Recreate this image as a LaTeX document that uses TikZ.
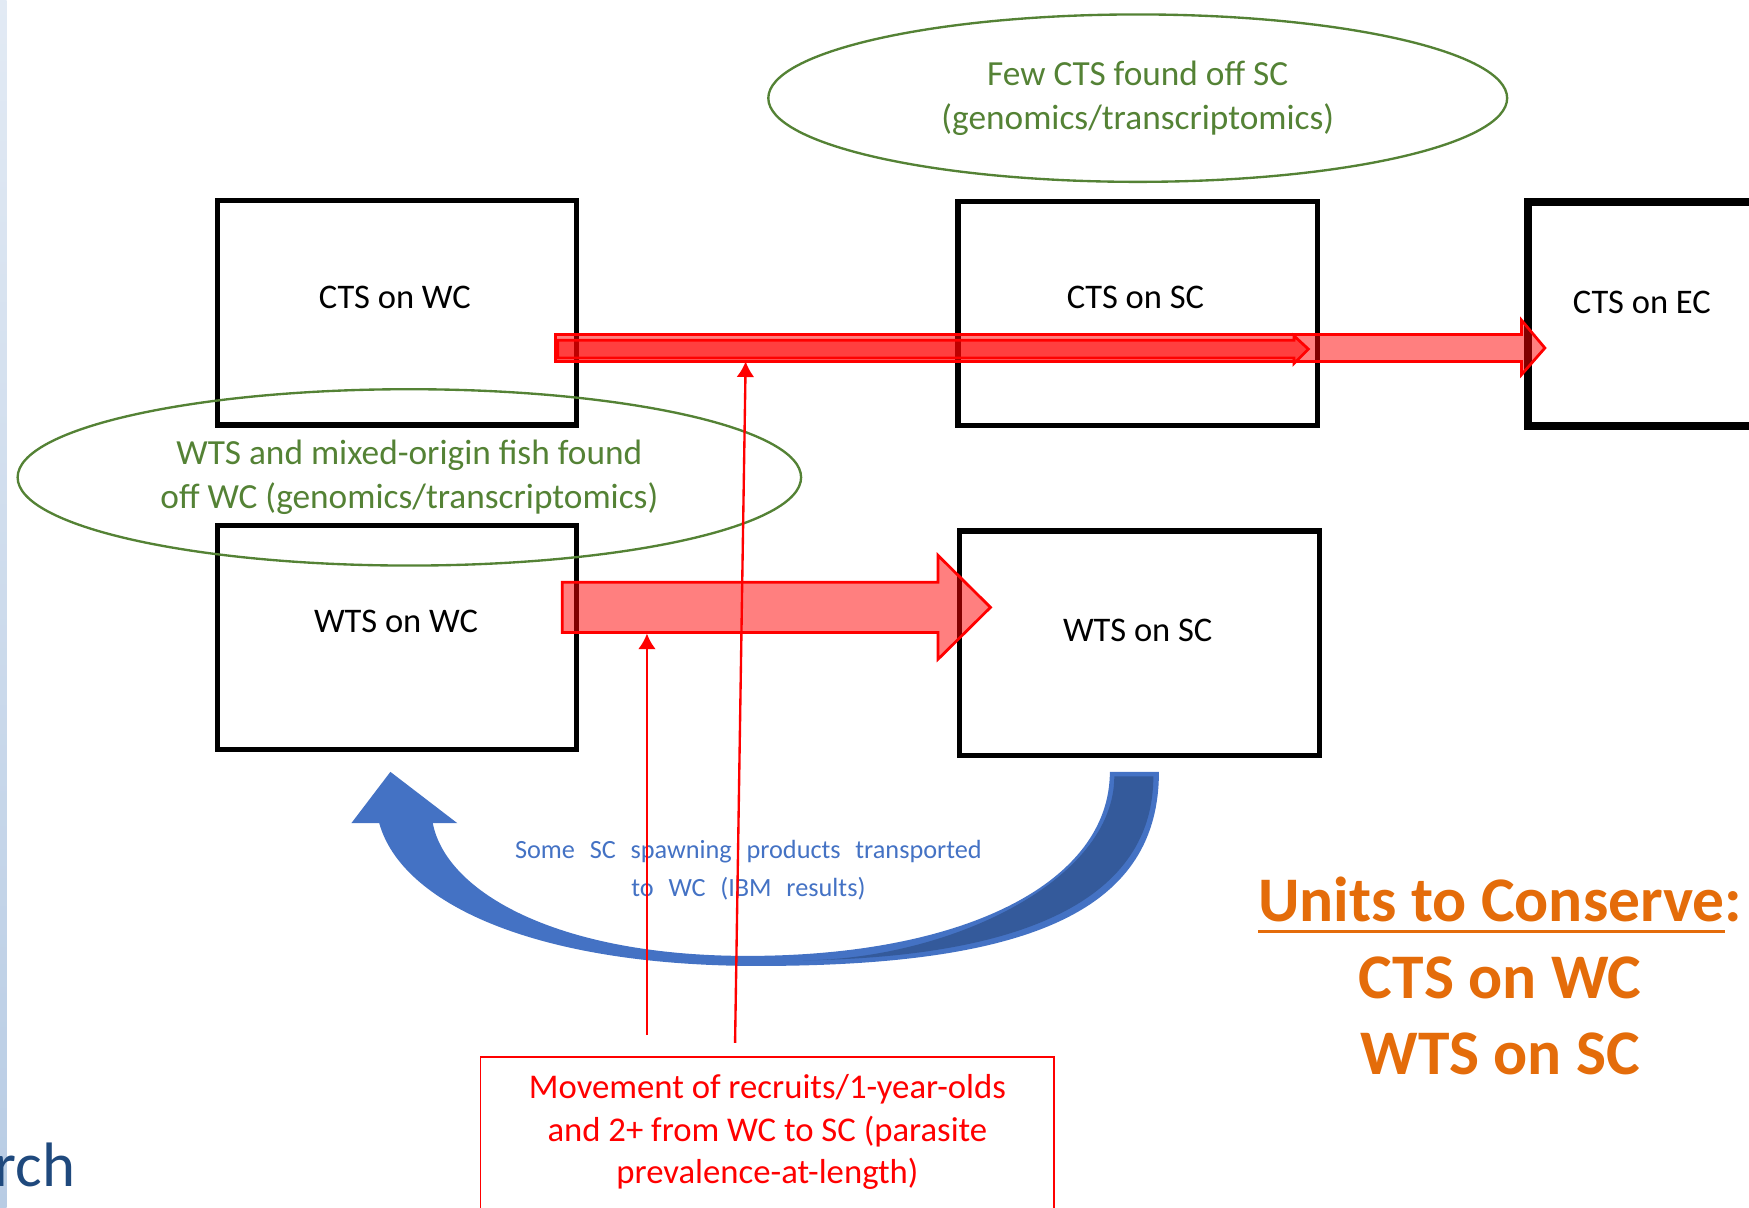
\documentclass[tikz,border=0pt]{standalone}
\usepackage{fontspec}
\setmainfont{Carlito}
\usepackage{tikz}
\usetikzlibrary{shapes.geometric, arrows.meta, positioning}
\usepackage{xcolor}
\definecolor{fishgreen}{RGB}{84,130,53}
\definecolor{bandblue}{RGB}{68,114,196}
\definecolor{banddark}{RGB}{52,90,155}
\definecolor{keeporange}{RGB}{228,108,10}
\definecolor{slideblue}{RGB}{31,73,125}
\definecolor{stripTop}{RGB}{226,234,244}
\definecolor{stripBot}{RGB}{184,204,228}
\newcommand{\keepline}[1]{\setbox0\hbox{#1}\rlap{\rule[-3pt]{\wd0}{0.85pt}}\box0}

\begin{document}
\begin{tikzpicture}[x=0.01cm, y=-0.01cm,
  unitbox/.style={draw, line width=1.35pt, minimum width=3.22cm, minimum height=2.01cm, inner sep=0},
  boxlabel/.style={font=\fontsize{8.8}{10.5}\selectfont, inner sep=0},
  findoval/.style={draw=fishgreen, ellipse, line width=0.6pt, text=fishgreen, align=center, inner sep=0, font=\fontsize{9}{11.4}\selectfont},
  flowarrow/.style={draw=red, line width=0.7pt, fill=red, fill opacity=0.5},
  thinarrow/.style={draw=red, line width=0.6pt, -{Latex[length=1.4mm,width=1.6mm]}},
  spawntext/.style={text=bandblue, align=center, inner sep=0, font={\fontsize{6.7}{9.7}\selectfont\spaceskip=0.56em\relax}},
  redtext/.style={text=red, align=center, inner sep=0, font=\fontsize{8.85}{10.8}\selectfont}]
\useasboundingbox (0,0) rectangle (1568,1083);
\shade[top color=stripTop, bottom color=stripBot] (0,0) rectangle (6,1083);
\node[anchor=base east, text=slideblue, font=\fontsize{16}{19}\selectfont, inner sep=0] (research) at (68,1064) {rch};

\node[unitbox] (ctsWC) at (356,280.5) {};
\node[unitbox] (ctsSC) at (1020,281) {};
\node[unitbox, line width=2pt] (ctsEC) at (1531,281.5) {};
\node[unitbox] (wtsWC) at (356,571.5) {};
\node[unitbox, minimum width=3.23cm] (wtsSC) at (1021.5,576.5) {};
\node[boxlabel] (ctsWCl) at (354,267) {CTS on WC};
\node[boxlabel] (ctsSCl) at (1018,267) {CTS on SC};
\node[boxlabel] (ctsECl) at (1472,271) {CTS on EC};
\node[boxlabel] (wtsWCl) at (355,557) {WTS on WC};
\node[boxlabel] (wtsSCl) at (1020,565) {WTS on SC};

\node[findoval, minimum width=6.62cm, minimum height=1.5cm] (fewCTS) at (1020,88) {Few CTS found off SC\\(genomics/transcriptomics)};
\node[findoval, minimum width=7.02cm, minimum height=1.58cm] (wtsMix) at (367,428) {WTS and mixed-origin fish found\\off WC (genomics/transcriptomics)};

\fill[bandblue] (1039,692) .. controls (1039,813) and (930,866) .. (680,866) .. controls (480,866) and (360,810) .. (340,738) -- (315,738) -- (350,692) -- (410,738) -- (388,738) .. controls (400,800) and (500,857) .. (670,857) .. controls (865,857) and (995,791) .. (995,692) -- cycle;
\fill[banddark] (999,696) -- (1034,696) .. controls (1034,805) and (920,858) .. (720,861) .. controls (850,860) and (999,790) .. (999,696) -- cycle;
\node[spawntext] (spawn) at (671,780) {Some SC spawning products transported\\to WC (IBM results)};

\draw[flowarrow] (498,300) -- (1364,300) -- (1364,287) -- (1385,312) -- (1364,336) -- (1364,324) -- (498,324) -- cycle;
\draw[flowarrow] (500,305) -- (1160,305) -- (1160,301) -- (1173,313) -- (1160,326) -- (1160,321) -- (500,321) -- cycle;
\draw[flowarrow] (504,522) -- (841,522) -- (841,498) -- (888,544.5) -- (841,591) -- (841,567) -- (504,567) -- cycle;

\node[draw=red, line width=0.45pt, minimum width=5.14cm, minimum height=1.8cm, anchor=north, inner sep=0] (recruit) at (688,947) {};
\node[redtext] (recruitT) at (688,1015) {Movement of recruits/1-year-olds\\and 2+ from WC to SC (parasite\\prevalence-at-length)};

\coordinate (footA) at (580,928);
\coordinate (footB) at (659,935);
\coordinate (hitA) at (580,568);
\coordinate (hitB) at (668.5,324);
\draw[thinarrow] (footA) -- (hitA);
\draw[thinarrow] (footB) -- (hitB);

\node[font=\fontsize{16.2}{19.5}\selectfont\bfseries, text=keeporange, align=center, inner sep=0] (conserve) at (1345,875) {\keepline{Units to Conserve}:\\CTS on WC\\WTS on SC};
\end{tikzpicture}
\end{document}
